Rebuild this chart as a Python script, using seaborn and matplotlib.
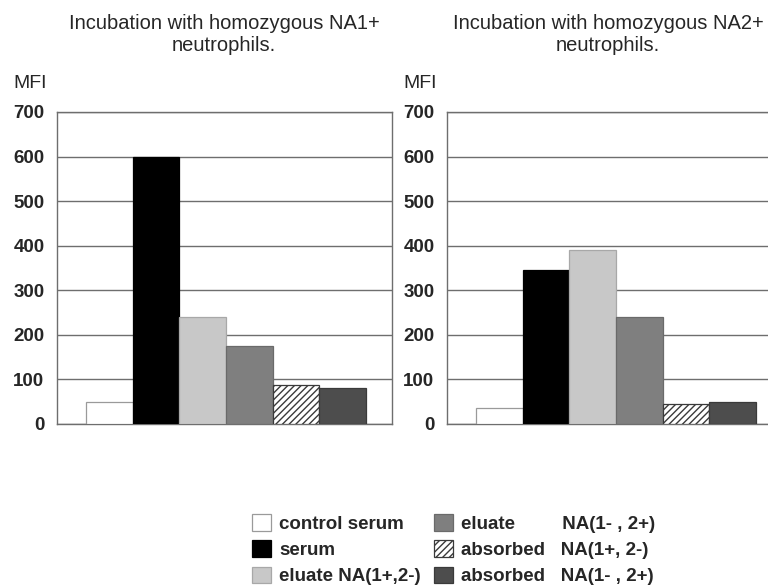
"""Recreate MFI bar chart for neutrophil incubation panels"""

import pandas as pd
import matplotlib
matplotlib.use('Agg')
import matplotlib.pyplot as plt
from matplotlib.patches import Patch
import seaborn as sns

# data
groups = ['control serum', 'serum', 'eluate NA(1+,2-)', 'eluate NA(1-,2+)',
          'absorbed NA(1+,2-)', 'absorbed NA(1-,2+)']
mfi_na1 = [50, 600, 240, 175, 88, 80]
mfi_na2 = [35, 345, 390, 240, 45, 50]
titles = ['Incubation with homozygous NA1+\nneutrophils.',
          'Incubation with homozygous NA2+\nneutrophils.']
legend_labels = ['control serum', 'serum', 'eluate NA(1+,2-)',
                 'eluate         NA(1- , 2+)', 'absorbed   NA(1+, 2-)',
                 'absorbed   NA(1- , 2+)']
yticks = [0, 100, 200, 300, 400, 500, 600, 700]

colors = ['#ffffff', '#000000', '#c8c8c8', '#7f7f7f', '#ffffff', '#4d4d4d']
edges = ['#9a9a9a', '#000000', '#a8a8a8', '#6a6a6a', '#3a3a3a', '#3a3a3a']

sns.set_style('white')
plt.rcParams['font.family'] = ['Liberation Sans', 'DejaVu Sans']
plt.rcParams['hatch.linewidth'] = 1.0

W, H = 768, 585
fig = plt.figure(figsize=(W / 100, H / 100), dpi=100)

# (axes left px, values, title, title centre px)
panels = [(57, mfi_na1, titles[0], 224), (447, mfi_na2, titles[1], 608)]
for left_px, values, title, title_x in panels:
    ax = fig.add_axes([left_px / W, 1 - 424 / H, 335 / W, 312 / H])
    df = pd.DataFrame({'group': groups, 'mfi': values})
    sns.barplot(data=df, x='group', y='mfi', hue='group', order=groups,
                hue_order=groups, palette=dict(zip(groups, colors)),
                width=1.0, legend=False, ax=ax, zorder=3)
    for i, cont in enumerate(ax.containers):
        for bar in cont:
            bar.set_edgecolor(edges[i])
            bar.set_linewidth(0.9)
            if i == 4:
                bar.set_hatch('/////')

    ax.set_xlim(-1.12, 6.06)
    ax.set_ylim(0, 700)
    ax.set_yticks(yticks)
    ax.set_yticklabels([str(t) for t in yticks], fontsize=13.5, fontweight='bold')
    ax.set_xticks([])
    ax.set_xlabel('')
    ax.set_ylabel('')
    ax.tick_params(axis='y', length=0, pad=9)
    ax.yaxis.grid(True, color='#6e6e6e', linewidth=1.0, zorder=0)
    for s in ax.spines.values():
        s.set_visible(True)
        s.set_color('#6e6e6e')
        s.set_linewidth(1.0)

    fig.text(title_x / W, 1 - 14 / H, title, ha='center', va='top',
             fontsize=14.5, linespacing=1.2)
    fig.text((left_px - 44) / W, 1 - 84 / H, 'MFI', ha='left', va='center',
             fontsize=14)

handles = [Patch(facecolor=c, edgecolor=e, hatch='/////' if i == 4 else None,
                 linewidth=0.9)
           for i, (c, e) in enumerate(zip(colors, edges))]
fig.legend(handles, legend_labels, ncol=2, loc='upper left',
           bbox_to_anchor=(252 / W, 1 - 514 / H), frameon=False,
           prop={'size': 13.5, 'weight': 'bold'}, handlelength=1.0,
           handleheight=1.0, handletextpad=0.45, labelspacing=0.4,
           columnspacing=0.7, borderpad=0, borderaxespad=0)

fig.savefig('out.png', dpi=100)
